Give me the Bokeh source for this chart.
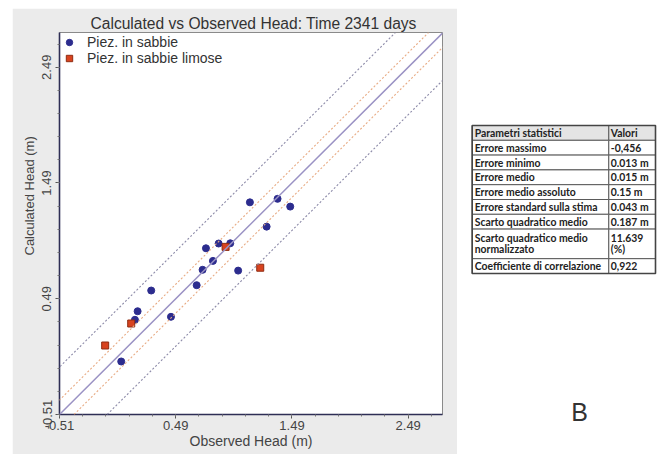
import math
from bokeh.plotting import figure
from bokeh.models import Range1d, FixedTicker, Slope, Legend, LegendItem, Title
from bokeh.layouts import row
from bokeh.embed import file_html
from bokeh.resources import INLINE
from bokeh.core.properties import value

# ---------------- data ----------------
sabbie_obs = [0.750, 0.859, 0.959, 0.810, 0.721, 1.027, 0.279, 0.670,
              0.162, 0.139, 0.449, 0.021, 1.128, 1.366, 1.475, 1.272]
sabbie_calc = [0.926, 0.967, 0.969, 0.817, 0.740, 0.733, 0.561, 0.607,
               0.382, 0.308, 0.334, -0.052, 1.323, 1.353, 1.286, 1.113]
limose_obs = [0.919, 1.217, 0.107, -0.117]
limose_calc = [0.938, 0.758, 0.276, 0.086]

tick_values = [-0.51, 0.49, 1.49, 2.49]
tick_labels = ["-0.51", "0.49", "1.49", "2.49"]

band_inner = 0.125   # orange dotted band (+/-)
band_outer = 0.41    # grey dotted band (+/-)

series_names = ["Piez. in sabbie", "Piez. in sabbie limose"]

title_text = "Calculated vs Observed Head: Time 2341 days"
x_label = "Observed Head (m)"
y_label = "Calculated Head (m)"

params = ["Parametri statistici", "Errore massimo", "Errore minimo", "Errore medio",
          "Errore medio assoluto", "Errore standard sulla stima",
          "Scarto quadratico medio", "Scarto quadratico medio\nnormalizzato",
          "Coefficiente di correlazione"]
param_values = ["Valori", "-0,456", "0.013 m", "0.015 m", "0.15 m", "0.043 m",
                "0.187 m", "11.639\n (%)", "0,922"]
panel_letter = "B"

# ---------------- layout constants ----------------
X_MIN, X_MAX = -0.51, 2.785
Y_MIN, Y_MAX = -0.51, 2.79
PAGE_X0, PAGE_Y0 = 12, 8
W1, H = 445, 446
ML, MR, MT = 47, 15, 24
FW = W1 - ML - MR          # 383
FH = 382
MB = H - MT - FH

FONT = "Liberation Sans"
AX_COLOR = "#2e2e55"

p = figure(width=W1, height=H, x_range=Range1d(X_MIN, X_MAX), y_range=Range1d(Y_MIN, Y_MAX),
           output_backend="svg", toolbar_location=None, title=None,
           min_border_left=ML, min_border_right=MR, min_border_top=MT, min_border_bottom=MB,
           margin=(PAGE_Y0, 0, 0, PAGE_X0))
p.grid.visible = False
p.background_fill_color = "white"
p.border_fill_color = "#ebebeb"
p.outline_line_color = "#8a8a8a"
p.outline_line_width = 1

minor = [round(tick_values[0] + 0.2 * k, 2) for k in range(0, 17)]
for ax in (p.xaxis[0], p.yaxis[0]):
    ax.ticker = FixedTicker(ticks=tick_values, minor_ticks=minor)
    ax.major_label_overrides = dict(zip(tick_values, tick_labels))
    ax.axis_line_color = AX_COLOR
    ax.axis_line_width = 1.6
    ax.major_tick_line_color = "#555"
    ax.minor_tick_line_color = "#777"
    ax.major_tick_in = 0
    ax.major_tick_out = 4
    ax.minor_tick_in = 0
    ax.minor_tick_out = 2
    ax.major_label_standoff = 2
    ax.major_label_text_font = FONT
    ax.major_label_text_font_size = "13px"
    ax.major_label_text_color = "#444"
p.yaxis[0].major_label_orientation = "vertical"
p.yaxis[0].major_label_standoff = 4

xa = p.xaxis[0]
xa.axis_label = x_label
xa.axis_label_standoff = 0
xa.axis_label_text_font = FONT
xa.axis_label_text_font_size = "14px"
xa.axis_label_text_font_style = "normal"
xa.axis_label_text_color = "#444"

# title above (left-aligned with offset to sit where the reference has it)
p.add_layout(Title(text=title_text, align="left", offset=31, standoff=2,
                   text_font=FONT, text_font_size="15.6px", text_font_style="normal",
                   text_color="#333"), "above")
# y label as a left title, positioned along the axis as in the reference
p.add_layout(Title(text=y_label, align="left", offset=159, standoff=6,
                   text_font=FONT, text_font_size="13px", text_font_style="normal",
                   text_color="#444"), "left")

# reference lines
lines = [(0.0, "#9a92c4", None, 1.5),
         (band_inner, "#e8ab84", "2 2", 1.1), (-band_inner, "#e8ab84", "2 2", 1.1),
         (band_outer, "#8c8aa8", "2 2", 1.1), (-band_outer, "#8c8aa8", "2 2", 1.1)]
for off, col, dash, w in lines:
    s = Slope(gradient=1, y_intercept=off, line_color=col, line_width=w)
    if dash:
        s.line_dash = dash
    p.add_layout(s)

r1 = p.scatter(sabbie_obs, sabbie_calc, marker="circle", size=7,
               fill_color="#2c2c8e", line_color="#2c2c8e")
r2 = p.scatter(limose_obs, limose_calc, marker="square", size=7,
               fill_color="#d8431f", line_color="#8f2c12")

legend = Legend(items=[LegendItem(label=series_names[0], renderers=[r1]),
                       LegendItem(label=series_names[1], renderers=[r2])],
                location="top_left", margin=0, padding=2, spacing=0,
                glyph_width=16, glyph_height=16, label_height=16, label_standoff=10,
                label_text_font=FONT, label_text_font_size="14px", label_text_color="#333",
                border_line_alpha=0, background_fill_alpha=0)
p.add_layout(legend)

# ---------------- table figure (page coordinates) ----------------
W2 = 203
T_X0 = PAGE_X0 + W1   # page x of table figure's left edge
t = figure(width=W2, height=H, output_backend="svg", toolbar_location=None, title=None,
           min_border_left=0, min_border_right=0, min_border_top=0, min_border_bottom=0,
           x_axis_location=None, y_axis_location=None, margin=(PAGE_Y0, 0, 0, 0))
unaligned = True
try:
    t.frame_align = False
    p.frame_align = False
except AttributeError:
    unaligned = False
t.x_range = Range1d(T_X0, T_X0 + W2)
if unaligned:
    t.y_range = Range1d(PAGE_Y0 + H, PAGE_Y0)
else:
    t.y_range = Range1d(PAGE_Y0 + MT + FH, PAGE_Y0 + MT)
t.grid.visible = False
t.outline_line_color = None
t.background_fill_color = "white"
t.border_fill_color = "white"

tab_left, tab_div, tab_right = 471.7, 608.3, 655
tab_top = 125
ROW_H = 14.8
SUB = 11.0

top = tab_top
cell_l, cell_r, cell_t, cell_b, cell_fill = [], [], [], [], []
txt_x, txt_y, txt_s = [], [], []
for i, (pa, va) in enumerate(zip(params, param_values)):
    pl = pa.split("\n")
    vl = va.split("\n")
    n = max(len(pl), len(vl))
    h = ROW_H * n
    fill = "#e4e4e4" if i == 0 else "white"
    for l, r in ((tab_left, tab_div), (tab_div, tab_right)):
        cell_l.append(l); cell_r.append(r); cell_t.append(top); cell_b.append(top + h)
        cell_fill.append(fill)
    cy = top + h / 2
    for col_x, ls in ((tab_left + 2.5, pl), (tab_div + 2, vl)):
        k = len(ls)
        for j, s in enumerate(ls):
            txt_x.append(col_x)
            txt_y.append(cy + (j - (k - 1) / 2) * SUB)
            txt_s.append(s)
    top += h

t.quad(left=cell_l, right=cell_r, top=cell_t, bottom=cell_b, fill_color=cell_fill,
       line_color="#5a5a5a", line_width=1)
t.quad(left=[tab_left], right=[tab_right], top=[tab_top], bottom=[top], fill_alpha=0,
       line_color="#444", line_width=1.6)
t.text(x=txt_x, y=txt_y, text=txt_s, text_font=value("Lato"), text_font_style="bold",
       text_font_size="10.4px", text_baseline="middle", text_align="left", text_color="#222")

t.text(x=[579], y=[411 if unaligned else 406], text=[panel_letter], text_align="center",
       text_baseline="middle", text_font=value(FONT), text_font_size="25px",
       text_color="#333")

layout = row(p, t)
open("out.html", "w").write(file_html(layout, INLINE))
